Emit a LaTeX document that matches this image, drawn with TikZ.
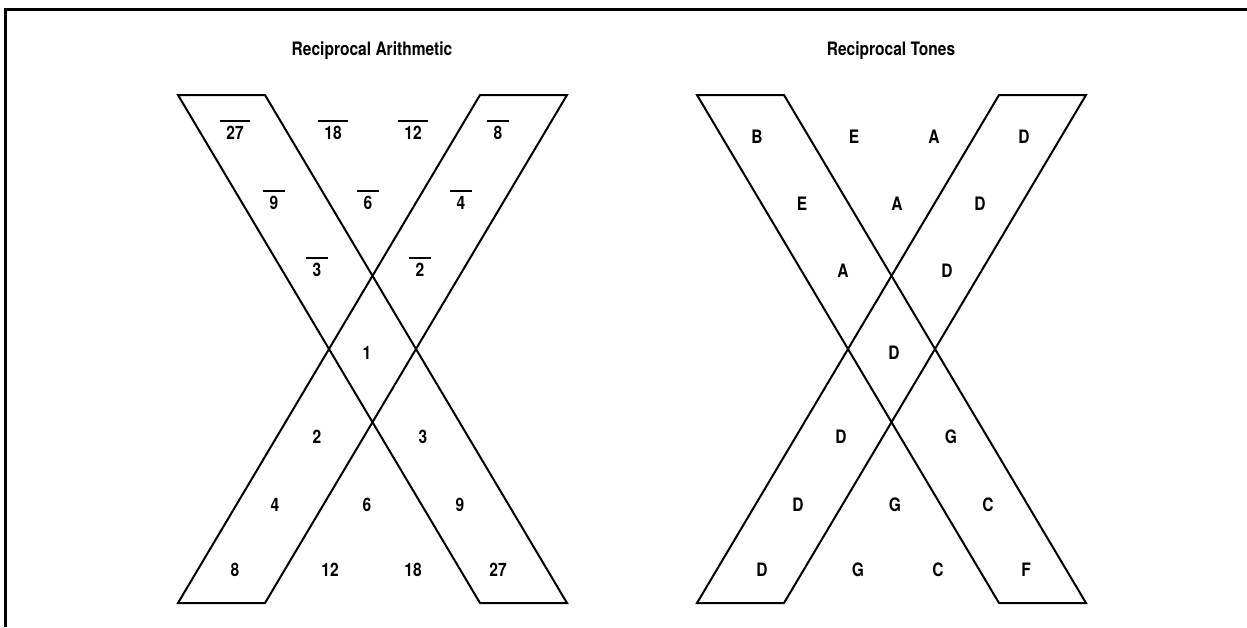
\documentclass[tikz,border=0pt]{standalone}
\usepackage{fontspec}
\setmainfont{TeX Gyre Heros}[FakeStretch=0.84]
\begin{document}
\begin{tikzpicture}[x=1pt,y=1pt,
    every node/.style={font=\fontsize{18.5}{22}\selectfont\bfseries, inner sep=0pt, anchor=center},
    strip/.style={draw=black, line width=2pt, line join=miter},
    frameline/.style={draw=black, line width=3pt},
    bar/.style={draw=black, line width=2pt}]
  \useasboundingbox (0,0) rectangle (1247,-627);

  % outer frame (top and left edges)
  \draw[frameline] (5.5,-627) -- (5.5,-9) -- (1247,-9);

  % titles
  \node (t1) at (372,-51) {Reciprocal Arithmetic};
  \node (t2) at (891,-51) {Reciprocal Tones};

  % two crossing strips for each X
  \foreach \dx in {0,519}{
    \draw[strip] (178+\dx,-95) -- (265+\dx,-95) -- (567+\dx,-603) -- (480+\dx,-603) -- cycle;
    \draw[strip] (480+\dx,-95) -- (567+\dx,-95) -- (265+\dx,-603) -- (178+\dx,-603) -- cycle;
  }

  % reciprocal numbers (overbarred)
  \foreach \n/\x/\y/\t in {a27/235/133/27, a18/333/133/18, a12/413/133/12, a8/498/133/8,
                           a9/274/203/9, a6/368/203/6, a4/461/203/4,
                           a3/317/270/3, a2/420/270/2}{
    \node (\n) at (\x,-\y) {\t};
    \draw[bar] ([xshift=-6pt,yshift=5.5pt]\n.north west) -- ([xshift=6pt,yshift=5.5pt]\n.north east);
  }

  % whole numbers
  \foreach \n/\x/\y/\t in {b1/367/353/1,
                           b2/317/437/2, b3/423/437/3,
                           b4/275/505/4, b6/367/505/6, b9/460/505/9,
                           b8/235/570/8, b12/330/570/12, b18/413/570/18, b27/498/570/27}{
    \node (\n) at (\x,-\y) {\t};
  }

  % tones
  \foreach \n/\x/\y/\t in {c1/757/137/B, c2/854/137/E, c3/934/137/A, c4/1024/137/D,
                           c5/802/204/E, c6/897/204/A, c7/980/204/D,
                           c8/843/271/A, c9/947/271/D,
                           c10/894/353/D,
                           c11/841/437/D, c12/951/437/G,
                           c13/798/505/D, c14/895/505/G, c15/988/505/C,
                           c16/762/570/D, c17/858/570/G, c18/938/570/C, c19/1026/570/F}{
    \node (\n) at (\x,-\y) {\t};
  }
\end{tikzpicture}
\end{document}
